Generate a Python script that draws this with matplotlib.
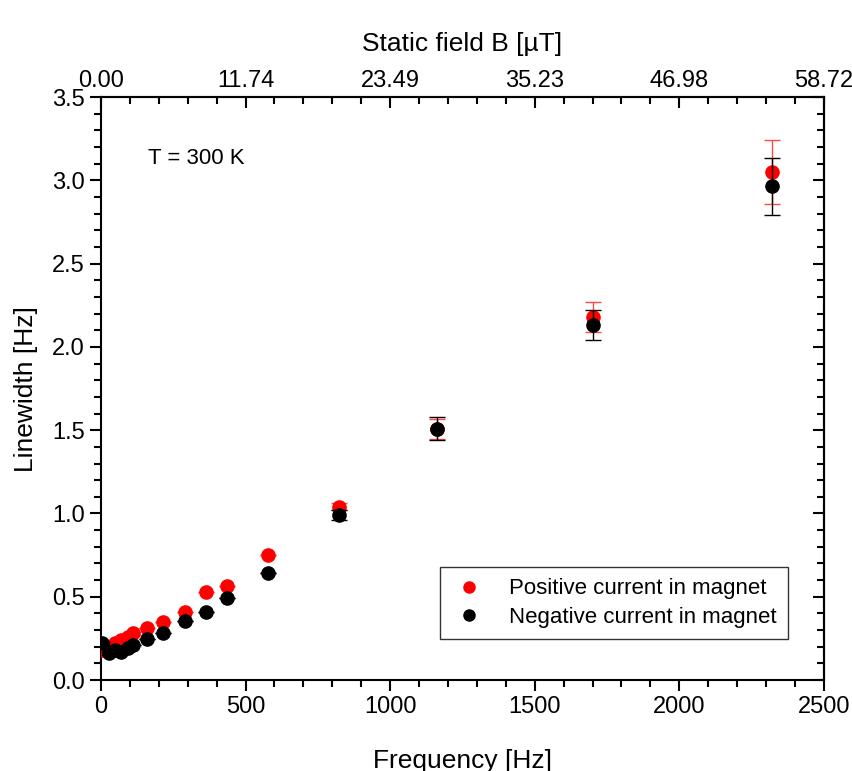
import matplotlib
matplotlib.use("Agg")
import matplotlib.pyplot as plt
from matplotlib.ticker import MultipleLocator, FormatStrFormatter
from matplotlib.lines import Line2D

plt.rcParams['font.family'] = ['Liberation Sans Narrow', 'Liberation Sans', 'DejaVu Sans']

# Measured linewidths vs. modulation frequency
freq = [5, 28, 50, 70, 92, 110, 160, 214, 290, 363, 436, 578, 823, 1162, 1700, 2320]
width_pos = [0.18, 0.19, 0.22, 0.24, 0.26, 0.28, 0.31, 0.35, 0.41, 0.53, 0.565, 0.75, 1.04, 1.51, 2.18, 3.05]
err_pos = [0.03, 0.02, 0.015, 0.01, 0.01, 0.01, 0.0, 0.0, 0.0, 0.0, 0.0, 0.0, 0.02, 0.06, 0.09, 0.19]
width_neg = [0.22, 0.16, 0.18, 0.17, 0.19, 0.21, 0.245, 0.28, 0.355, 0.41, 0.49, 0.64, 0.99, 1.51, 2.13, 2.965]
err_neg = [0.01, 0.01, 0.01, 0.01, 0.01, 0.0, 0.0, 0.0, 0.0, 0.0, 0.0, 0.0, 0.03, 0.07, 0.09, 0.17]

freq_ticks = [0, 500, 1000, 1500, 2000, 2500]
field_labels = ["0.00", "11.74", "23.49", "35.23", "46.98", "58.72"]

labels = ['Positive current in magnet', 'Negative current in magnet']
colors = ['#ff0000', 'black']

fig = plt.figure(figsize=(8.52, 7.71), dpi=100)
ax = fig.add_axes([0.1185, 0.118, 0.8485, 0.756])

ax.errorbar(freq, width_pos, yerr=err_pos, fmt='o', color=colors[0], ms=9.5,
            ecolor='#ff4848', elinewidth=1.0, capsize=6, capthick=1.0, zorder=3)
ax.errorbar(freq, width_neg, yerr=err_neg, fmt='o', color=colors[1], ms=9.5,
            ecolor='black', elinewidth=1.0, capsize=6, capthick=1.0, zorder=4)

ax.set_xlim(0, 2500)
ax.set_ylim(0, 3.5)
ax.xaxis.set_major_locator(MultipleLocator(500))
ax.xaxis.set_minor_locator(MultipleLocator(100))
ax.yaxis.set_major_locator(MultipleLocator(0.5))
ax.yaxis.set_minor_locator(MultipleLocator(0.1))
ax.yaxis.set_major_formatter(FormatStrFormatter('%.1f'))

for s in ax.spines.values():
    s.set_linewidth(1.5)

ax.tick_params(which='both', direction='out', width=1.5, labelsize=17, top=False, right=False)
ax.tick_params(which='major', length=8)
ax.tick_params(which='minor', length=5)

# Top axis: static field corresponding to the frequency
top = ax.secondary_xaxis('top')
top.set_xticks(freq_ticks, labels=field_labels)
top.xaxis.set_minor_locator(MultipleLocator(100))
top.tick_params(which='both', direction='in', width=1.5, labelsize=17)
top.tick_params(which='major', length=8)
top.tick_params(which='minor', length=5)
top.spines['top'].set_linewidth(1.5)
top.set_xlabel('Static field B [\u00b5T]', fontsize=19, labelpad=14)

right = ax.secondary_yaxis('right')
right.yaxis.set_major_locator(MultipleLocator(0.5))
right.yaxis.set_minor_locator(MultipleLocator(0.1))
right.tick_params(which='both', direction='in', width=1.5, labelright=False)
right.tick_params(which='major', length=8)
right.tick_params(which='minor', length=5)
right.spines['right'].set_linewidth(1.5)

ax.set_xlabel('Frequency [Hz]', fontsize=19, labelpad=22)
ax.set_ylabel('Linewidth [Hz]', fontsize=19, labelpad=10)

ax.text(0.065, 0.895, 'T = 300 K', transform=ax.transAxes, fontsize=16, va='center')

handles = [Line2D([], [], ls='none', marker='o', color=c, ms=8) for c in colors]
leg = ax.legend(handles, labels, loc='lower right', bbox_to_anchor=(0.950, 0.070),
                borderaxespad=0, fontsize=16, frameon=True, fancybox=False,
                edgecolor='black', handlelength=1.6, handletextpad=1.0,
                borderpad=0.5, labelspacing=0.35)
leg.get_frame().set_linewidth(1.0)

fig.savefig('out.png', dpi=100)
